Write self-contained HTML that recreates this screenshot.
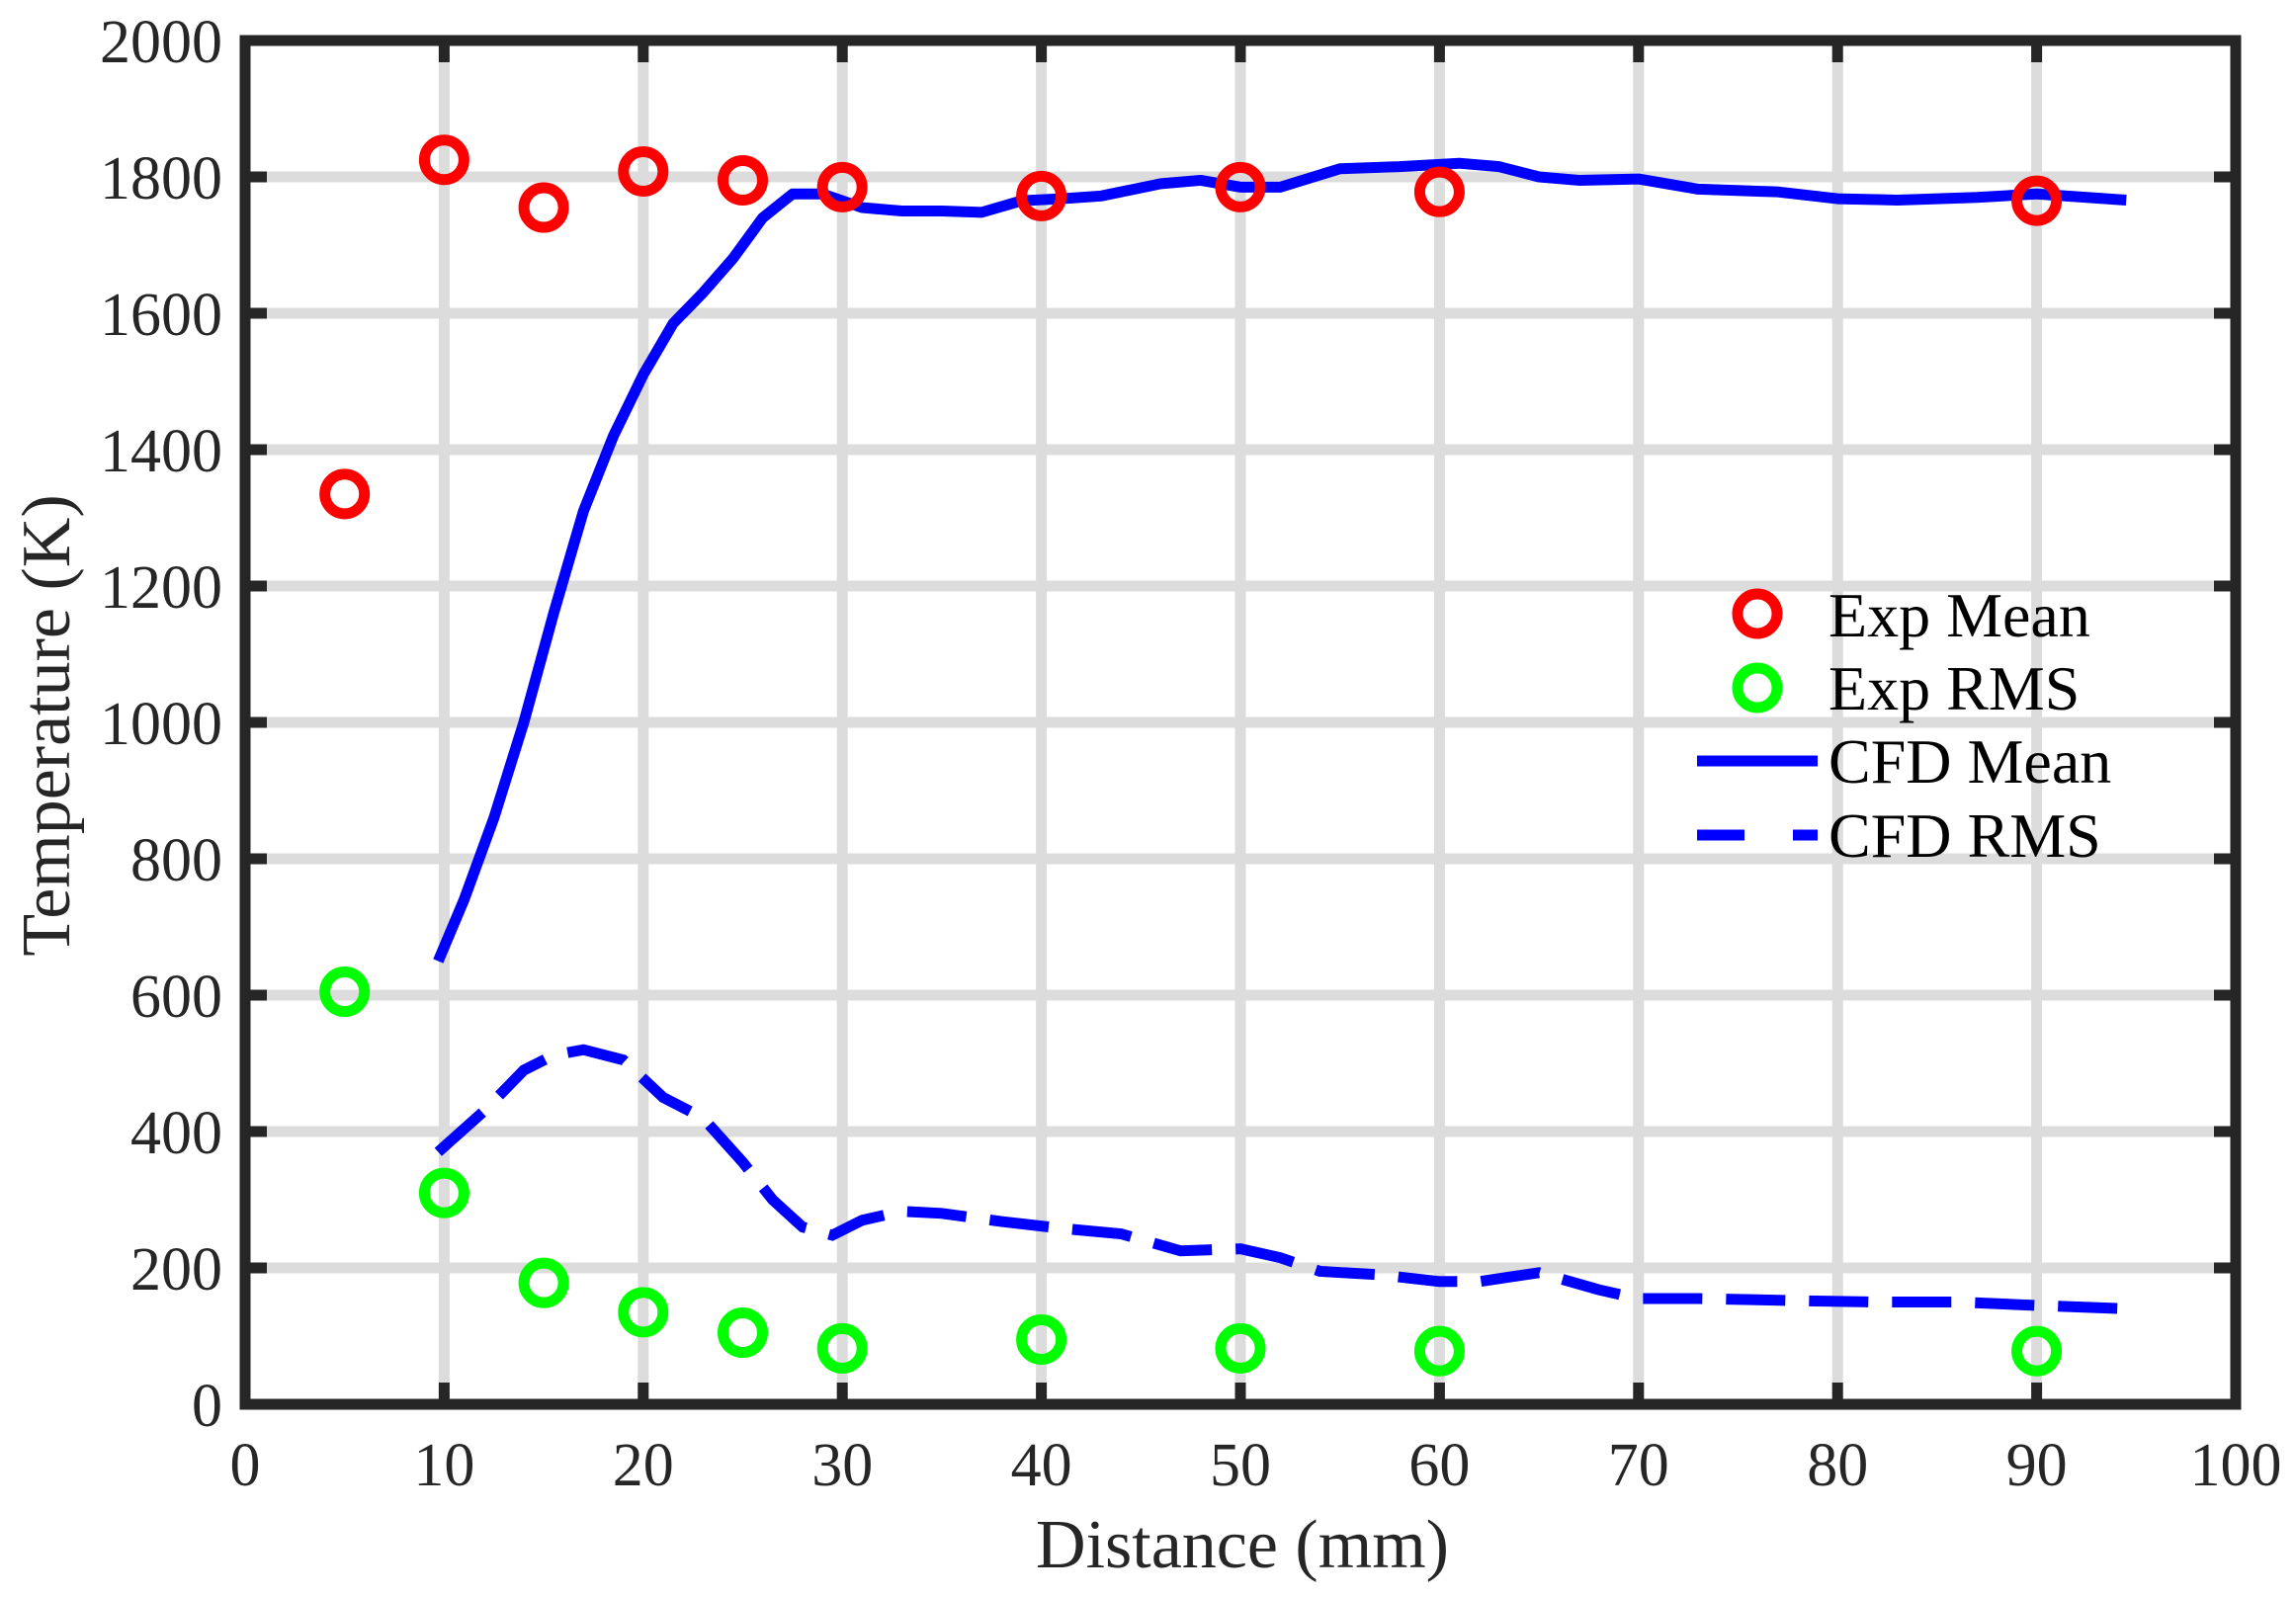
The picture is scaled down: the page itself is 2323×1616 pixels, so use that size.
<!DOCTYPE html>
<html><head><meta charset="utf-8"><style>html,body{margin:0;padding:0;background:#fff}svg{display:block}</style></head>
<body>
<svg width="2323" height="1616" viewBox="0 0 2323 1616" xmlns="http://www.w3.org/2000/svg" font-family="'Liberation Serif', serif" fill="#262626">
<g id="grid" stroke="#dcdcdc" stroke-width="11"></g>
<g id="ticks" stroke="#262626" stroke-width="11"></g>
<g id="lbl" font-size="62"></g>
<polyline id="mean" fill="none" stroke="#0000ff" stroke-width="11" stroke-linejoin="round"/>
<polyline id="rms" fill="none" stroke="#0000ff" stroke-width="11" stroke-dasharray="60 24"/>
<g id="mk" fill="none" stroke-width="11"></g>
<rect x="248" y="41" width="2014" height="1380" fill="none" stroke="#262626" stroke-width="11"/>
<g font-size="64" fill="#000">
<circle cx="1778" cy="621" r="20" fill="none" stroke="#ff0000" stroke-width="11"/>
<circle cx="1778" cy="696" r="20" fill="none" stroke="#00ff00" stroke-width="11"/>
<line x1="1717" y1="770" x2="1839" y2="770" stroke="#0000ff" stroke-width="11"/>
<line x1="1717" y1="845" x2="1839" y2="845" stroke="#0000ff" stroke-width="11" stroke-dasharray="48 49"/>
<text x="1850" y="644">Exp Mean</text>
<text x="1850" y="718">Exp RMS</text>
<text x="1850" y="792">CFD Mean</text>
<text x="1850" y="867">CFD RMS</text>
</g>
<text x="1257" y="1586" font-size="70" text-anchor="middle">Distance (mm)</text>
<text transform="translate(70,734) rotate(-90)" font-size="70" text-anchor="middle">Temperature (K)</text>
</svg>
<script>
const X=v=>248+v*20.14, Y=v=>1421-v*0.69;
const ns="http://www.w3.org/2000/svg";
const mk=(t,a,p)=>{const e=document.createElementNS(ns,t);for(const k in a)e.setAttribute(k,a[k]);document.getElementById(p).appendChild(e);return e;};
for(let i=1;i<10;i++){mk('line',{x1:X(i*10),x2:X(i*10),y1:41,y2:1421},'grid');mk('line',{x1:X(i*10),x2:X(i*10),y1:1421,y2:1399},'ticks');mk('line',{x1:X(i*10),x2:X(i*10),y1:41,y2:63},'ticks');}
for(let i=1;i<10;i++){mk('line',{y1:Y(i*200),y2:Y(i*200),x1:248,x2:2262},'grid');mk('line',{y1:Y(i*200),y2:Y(i*200),x1:248,x2:270},'ticks');mk('line',{y1:Y(i*200),y2:Y(i*200),x1:2262,x2:2240},'ticks');}
for(let i=0;i<=10;i++){mk('text',{x:X(i*10),y:1503,'text-anchor':'middle'},'lbl').textContent=i*10;}
for(let i=0;i<=10;i++){mk('text',{x:225,y:Y(i*200)+22,'text-anchor':'end'},'lbl').textContent=i*200;}
const m=[[9.7,650],[11,740],[12.5,860],[14,1000],[15.5,1160],[17,1310],[18.5,1420],[20,1510],[21.5,1585],[23,1630],[24.5,1680],[26,1740],[27.5,1775],[29,1775],[31,1755],[33,1750],[35,1750],[37,1748],[39,1765],[41,1768],[43,1772],[46,1790],[48,1795],[50,1785],[52,1785],[55,1812],[58,1815],[61,1820],[63,1815],[65,1800],[67,1795],[70,1797],[73,1782],[77,1778],[80,1768],[83,1766],[87,1770],[90,1775],[94.5,1766]];
const r=[[9.7,370],[12,430],[14,490],[15.5,512],[17,520],[19,505],[21,450],[23,420],[25,355],[26.5,300],[28,260],[29.5,248],[31,270],[33,283],[35,280],[38,268],[41,258],[44,250],[47,225],[50,228],[52,215],[54,195],[57,190],[60,180],[62,180],[65,193],[68,168],[70,155],[73,155],[78,152],[82,150],[86,150],[90,145],[94.5,140]];
document.getElementById('mean').setAttribute('points',m.map(p=>X(p[0])+','+Y(p[1])).join(' '));
document.getElementById('rms').setAttribute('points',r.map(p=>X(p[0])+','+Y(p[1])).join(' '));
[[5,1335],[10,1825],[15,1755],[20,1808],[25,1795],[30,1785],[40,1772],[50,1785],[60,1778],[90,1765]].forEach(p=>mk('circle',{cx:X(p[0]),cy:Y(p[1]),r:20,stroke:'#ff0000'},'mk'));
[[5,605],[10,310],[15,178],[20,135],[25,105],[30,82],[40,95],[50,82],[60,78],[90,78]].forEach(p=>mk('circle',{cx:X(p[0]),cy:Y(p[1]),r:20,stroke:'#00ff00'},'mk'));
</script>
</body></html>
